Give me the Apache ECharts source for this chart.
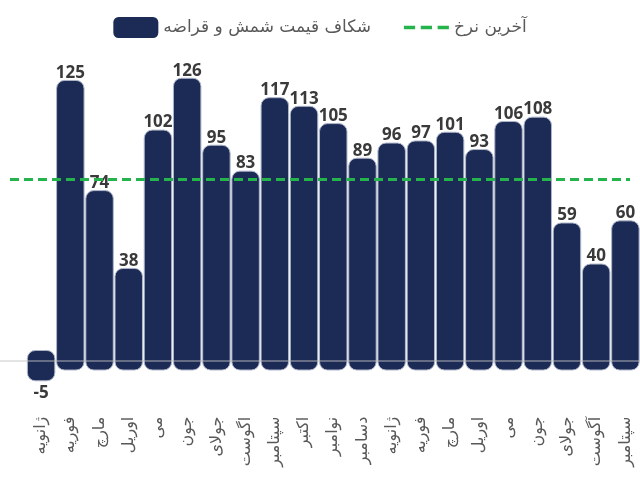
<!DOCTYPE html>
<html>
<head>
<meta charset="utf-8">
<script src="https://cdn.jsdelivr.net/npm/echarts@6/dist/echarts.min.js"></script>
<style>
  html, body { margin: 0; padding: 0; background: #fff; }
  #chart { width: 640px; height: 479px; }
</style>
</head>
<body>
<div id="chart"></div>
<script>
// ماه ها
var months = ['ژانویه', 'فوریه', 'مارچ', 'اوریل', 'می', 'جون', 'جولای', 'اگوست', 'سپتامبر', 'اکتبر', 'نوامبر', 'دسامبر',
              'ژانویه', 'فوریه', 'مارچ', 'اوریل', 'می', 'جون', 'جولای', 'آگوست', 'سپتامبر'];
// شکاف قیمت شمش و قراضه
var gapValues = [-5, 125, 74, 38, 102, 126, 95, 83, 117, 113, 105, 89, 96, 97, 101, 93, 106, 108, 59, 40, 60];
// آخرین نرخ
var lastRate = 79.4;
var baseLineValue = -4.6;

var gapName = 'شکاف قیمت شمش و قراضه';
var rateName = 'آخرین نرخ';

var barColor = '#1c2b56';
var rateColor = '#25b34b';
var persianFont = 'DejaVu Sans';

var chart = echarts.init(document.getElementById('chart'));

var option = {
    animation: false,
    grid: { left: 26.5, right: -3.5, top: 48, bottom: 85.3 },
    legend: {
        top: 12,
        left: 'center',
        itemWidth: 45,
        itemHeight: 21,
        itemGap: 33,
        textStyle: { fontSize: 17, color: '#595959', fontFamily: persianFont },
        data: [
            { name: gapName, icon: 'roundRect' },
            { name: rateName, icon: 'path://M0,0h10v3h-10z M15,0h10v3h-10z M30,0h10v3h-10z' }
        ]
    },
    xAxis: {
        type: 'category',
        data: months,
        axisLine: { show: false },
        axisTick: { show: false },
        axisLabel: {
            rotate: 90,
            margin: 23,
            interval: 0,
            fontSize: 16,
            color: '#595959',
            fontFamily: persianFont
        }
    },
    yAxis: {
        type: 'value',
        min: -20,
        max: 140,
        show: false,
        splitLine: { show: false }
    },
    series: [
        {
            name: gapName,
            type: 'custom',
            color: barColor,
            itemStyle: { color: barColor },
            data: gapValues.map(function (v, i) { return [i, v]; }),
            encode: { x: 0, y: 1 },
            renderItem: function (params, api) {
                var i = api.value(0);
                var v = api.value(1);
                var top = api.coord([i, Math.max(v, 0)]);
                var bot = api.coord([i, Math.min(v, 0)]);
                var w = api.size([1, 0])[0] * 0.94;
                var tail = 19.5; // پایین ستون ها کمی زیر خط صفر می رود
                var barBottom = bot[1] + tail;
                var labelY = v >= 0 ? top[1] + 1 : barBottom + 12;
                return {
                    type: 'group',
                    children: [
                        {
                            type: 'rect',
                            shape: { x: top[0] - w / 2, y: top[1], width: w, height: barBottom - top[1], r: 8 },
                            style: { fill: barColor, stroke: '#aeb6c9', lineWidth: 1 }
                        },
                        {
                            type: 'text',
                            style: {
                                text: String(v),
                                x: top[0],
                                y: labelY,
                                align: 'center',
                                verticalAlign: v >= 0 ? 'bottom' : 'middle',
                                fontSize: 17,
                                fontWeight: 'bold',
                                fontFamily: 'Open Sans',
                                fill: '#3a3a3a'
                            }
                        }
                    ]
                };
            },
            markLine: {
                silent: true,
                symbol: 'none',
                label: { show: false },
                lineStyle: { color: 'rgba(195,195,195,0.6)', width: 1.5, type: 'solid' },
                data: [[{ x: '0%', yAxis: baseLineValue }, { x: '100%', yAxis: baseLineValue }]],
                z: 10
            }
        },
        {
            name: rateName,
            type: 'line',
            color: rateColor,
            itemStyle: { color: rateColor },
            data: [],
            markLine: {
                silent: true,
                symbol: 'none',
                label: { show: false },
                lineStyle: { color: rateColor, width: 3, type: [9, 5] },
                data: [[{ x: 10, yAxis: lastRate }, { x: 630, yAxis: lastRate }]]
            },
            z: 10
        }
    ]
};

chart.setOption(option);
</script>
</body>
</html>
